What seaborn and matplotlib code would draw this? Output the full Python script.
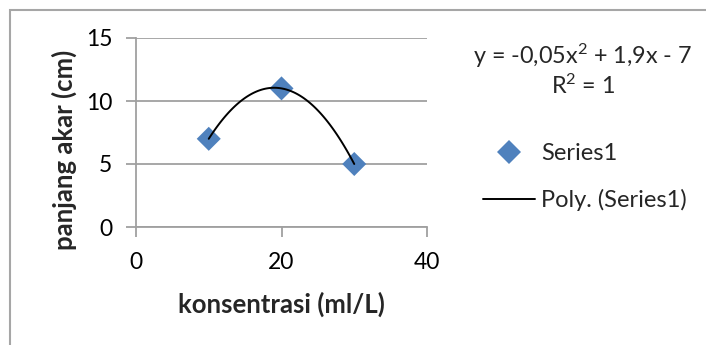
import matplotlib
matplotlib.use("Agg")
import matplotlib.pyplot as plt
import seaborn as sns
import pandas as pd
from matplotlib.lines import Line2D
from matplotlib.patches import Rectangle

# Data
konsentrasi = [10, 20, 30]
panjang_akar = [7, 11, 5]
series_name = "Series1"
trend_name = "Poly. (Series1)"
equation = "y = -0,05x$^2$ + 1,9x - 7"
r2_text = "R$^2$ = 1"
x_ticks = [0, 20, 40]
y_ticks = [0, 5, 10, 15]

df = pd.DataFrame({"konsentrasi": konsentrasi, "panjang": panjang_akar})

sns.set_theme(style="white")
plt.rcParams["font.family"] = ["Lato", "DejaVu Sans"]
plt.rcParams["mathtext.fontset"] = "custom"
plt.rcParams["mathtext.rm"] = "Lato"
plt.rcParams["mathtext.it"] = "Lato"

W, H = 706, 345
fig = plt.figure(figsize=(W / 100, H / 100), dpi=100)
fig.patch.set_facecolor("white")

# outer chart border (only left and top visible)
fig.add_artist(Rectangle((10 / W, -0.5), 2.0, 1.5 - 10 / H, transform=fig.transFigure,
                         fill=False, edgecolor="#A6A6A6", linewidth=1.5))

ax = fig.add_axes([136 / W, 1 - 227 / H, 291 / W, 189 / H])

blue = "#4F81BD"
sns.regplot(data=df, x="konsentrasi", y="panjang", order=2, ci=None, ax=ax,
            marker="D",
            scatter_kws={"s": 150, "color": blue, "alpha": 1, "edgecolors": "none", "zorder": 3},
            line_kws={"color": "black", "linewidth": 1.4, "zorder": 4})

ax.set_xlim(0, 40)
ax.set_ylim(0, 15)
ax.set_xticks(x_ticks)
ax.set_yticks(y_ticks)
ax.yaxis.grid(True, color="#A0A0A0", linewidth=1.3)
ax.xaxis.grid(False)
for s in ["top", "right"]:
    ax.spines[s].set_visible(False)
for s in ["left", "bottom"]:
    ax.spines[s].set_color("#A0A0A0")
    ax.spines[s].set_linewidth(1.3)
ax.tick_params(axis="both", which="major", direction="out", length=7, width=1.3,
               color="#A0A0A0", labelsize=16.5, labelcolor="black",
               left=True, bottom=True)
ax.tick_params(axis="x", pad=11)
ax.tick_params(axis="y", pad=10)
ax.set_xlabel("konsentrasi (ml/L)", fontsize=18.5, fontweight="bold", va="center")
ax.set_ylabel("panjang akar (cm)", fontsize=18.5, fontweight="bold", va="center")
ax.xaxis.set_label_coords((281 - 136) / 291, (227 - 304) / 189)
ax.yaxis.set_label_coords((64 - 136) / 291, (227 - 150) / 189)

# equation text
fig.text(583 / W, 1 - 56 / H, equation, ha="center", va="center", fontsize=16.8)
fig.text(583 / W, 1 - 86 / H, r2_text, ha="center", va="center", fontsize=16.8)

handles = [
    Line2D([], [], linestyle="none", marker="D", markersize=12, color=blue, markeredgewidth=0),
    Line2D([], [], color="black", linewidth=1.4),
]
fig.legend(handles, [series_name, trend_name], loc="center left",
           bbox_to_anchor=(483 / W, 1 - 177 / H), frameon=False, fontsize=17,
           handlelength=2.2, handletextpad=0.25, labelspacing=1.05, borderpad=0,
           borderaxespad=0)

fig.savefig("out.png", dpi=100)
